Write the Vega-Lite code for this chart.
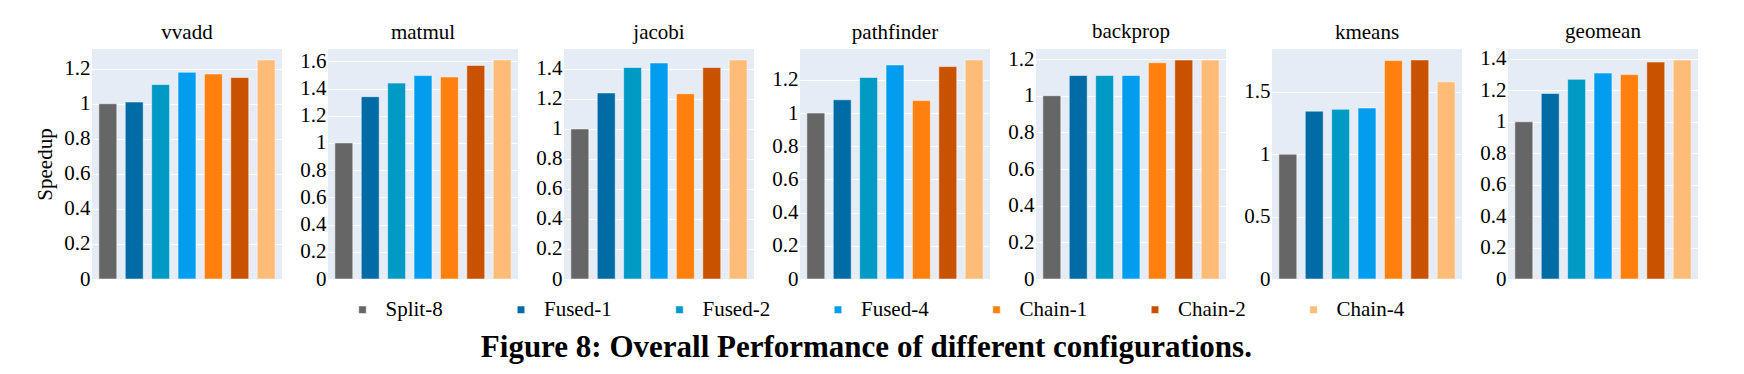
{
  "$schema": "https://vega.github.io/schema/vega-lite/v6.json",
  "background": "white",
  "padding": {"left": 34, "top": 20, "right": 10, "bottom": 5},
  "bounds": "flush",
  "spacing": 46,
  "data": {"values": [
    {"bench": "vvadd", "config": "Split-8", "speedup": 1.00},
    {"bench": "vvadd", "config": "Fused-1", "speedup": 1.01},
    {"bench": "vvadd", "config": "Fused-2", "speedup": 1.11},
    {"bench": "vvadd", "config": "Fused-4", "speedup": 1.18},
    {"bench": "vvadd", "config": "Chain-1", "speedup": 1.17},
    {"bench": "vvadd", "config": "Chain-2", "speedup": 1.15},
    {"bench": "vvadd", "config": "Chain-4", "speedup": 1.25},
    {"bench": "matmul", "config": "Split-8", "speedup": 1.00},
    {"bench": "matmul", "config": "Fused-1", "speedup": 1.34},
    {"bench": "matmul", "config": "Fused-2", "speedup": 1.44},
    {"bench": "matmul", "config": "Fused-4", "speedup": 1.495},
    {"bench": "matmul", "config": "Chain-1", "speedup": 1.485},
    {"bench": "matmul", "config": "Chain-2", "speedup": 1.57},
    {"bench": "matmul", "config": "Chain-4", "speedup": 1.61},
    {"bench": "jacobi", "config": "Split-8", "speedup": 1.00},
    {"bench": "jacobi", "config": "Fused-1", "speedup": 1.24},
    {"bench": "jacobi", "config": "Fused-2", "speedup": 1.41},
    {"bench": "jacobi", "config": "Fused-4", "speedup": 1.44},
    {"bench": "jacobi", "config": "Chain-1", "speedup": 1.235},
    {"bench": "jacobi", "config": "Chain-2", "speedup": 1.41},
    {"bench": "jacobi", "config": "Chain-4", "speedup": 1.46},
    {"bench": "pathfinder", "config": "Split-8", "speedup": 1.00},
    {"bench": "pathfinder", "config": "Fused-1", "speedup": 1.08},
    {"bench": "pathfinder", "config": "Fused-2", "speedup": 1.215},
    {"bench": "pathfinder", "config": "Fused-4", "speedup": 1.29},
    {"bench": "pathfinder", "config": "Chain-1", "speedup": 1.075},
    {"bench": "pathfinder", "config": "Chain-2", "speedup": 1.28},
    {"bench": "pathfinder", "config": "Chain-4", "speedup": 1.32},
    {"bench": "backprop", "config": "Split-8", "speedup": 1.00},
    {"bench": "backprop", "config": "Fused-1", "speedup": 1.11},
    {"bench": "backprop", "config": "Fused-2", "speedup": 1.11},
    {"bench": "backprop", "config": "Fused-4", "speedup": 1.11},
    {"bench": "backprop", "config": "Chain-1", "speedup": 1.18},
    {"bench": "backprop", "config": "Chain-2", "speedup": 1.195},
    {"bench": "backprop", "config": "Chain-4", "speedup": 1.195},
    {"bench": "kmeans", "config": "Split-8", "speedup": 1.00},
    {"bench": "kmeans", "config": "Fused-1", "speedup": 1.345},
    {"bench": "kmeans", "config": "Fused-2", "speedup": 1.36},
    {"bench": "kmeans", "config": "Fused-4", "speedup": 1.37},
    {"bench": "kmeans", "config": "Chain-1", "speedup": 1.75},
    {"bench": "kmeans", "config": "Chain-2", "speedup": 1.755},
    {"bench": "kmeans", "config": "Chain-4", "speedup": 1.58},
    {"bench": "geomean", "config": "Split-8", "speedup": 1.00},
    {"bench": "geomean", "config": "Fused-1", "speedup": 1.18},
    {"bench": "geomean", "config": "Fused-2", "speedup": 1.27},
    {"bench": "geomean", "config": "Fused-4", "speedup": 1.31},
    {"bench": "geomean", "config": "Chain-1", "speedup": 1.30},
    {"bench": "geomean", "config": "Chain-2", "speedup": 1.38},
    {"bench": "geomean", "config": "Chain-4", "speedup": 1.393}
  ]},
  "title": {
    "text": "Figure 8: Overall Performance of different configurations.",
    "orient": "bottom",
    "anchor": "middle",
    "font": "Liberation Serif",
    "fontSize": 31,
    "fontWeight": "bold",
    "color": "black",
    "offset": 13
  },
  "resolve": {"scale": {"x": "independent", "y": "independent", "color": "shared"}, "axis": {"y": "independent"}, "legend": {"color": "shared"}},
  "hconcat": [
    {
      "title": "vvadd",
      "width": 190, "height": 230,
      "transform": [{"filter": "datum.bench === 'vvadd'"}],
      "mark": {"type": "bar", "stroke": "white", "strokeOpacity": 0.5, "strokeWidth": 1},
      "encoding": {
        "x": {"field": "config", "type": "nominal", "sort": ["Split-8", "Fused-1", "Fused-2", "Fused-4", "Chain-1", "Chain-2", "Chain-4"], "axis": null, "scale": {"paddingInner": 0.32, "paddingOuter": 0.26}},
        "y": {"field": "speedup", "type": "quantitative", "scale": {"domain": [0, 1.3125], "nice": false}, "axis": {"values": [0, 0.2, 0.4, 0.6, 0.8, 1, 1.2], "format": "~g", "title": "Speedup"}},
        "color": {"field": "config", "type": "nominal", "scale": {"domain": ["Split-8", "Fused-1", "Fused-2", "Fused-4", "Chain-1", "Chain-2", "Chain-4"], "range": ["#666666", "#006BA4", "#009AC4", "#039DF0", "#FF800E", "#C85200", "#FFBC79"]}, "legend": {"orient": "none", "legendX": 260, "legendY": 250, "direction": "horizontal", "columns": 7, "gridAlign": "all", "columnPadding": 56.5, "title": null}}
      }
    },
    {
      "title": "matmul",
      "width": 190, "height": 230,
      "transform": [{"filter": "datum.bench === 'matmul'"}],
      "mark": {"type": "bar", "stroke": "white", "strokeOpacity": 0.5, "strokeWidth": 1},
      "encoding": {
        "x": {"field": "config", "type": "nominal", "sort": ["Split-8", "Fused-1", "Fused-2", "Fused-4", "Chain-1", "Chain-2", "Chain-4"], "axis": null, "scale": {"paddingInner": 0.32, "paddingOuter": 0.26}},
        "y": {"field": "speedup", "type": "quantitative", "scale": {"domain": [0, 1.6905], "nice": false}, "axis": {"values": [0, 0.2, 0.4, 0.6, 0.8, 1, 1.2, 1.4, 1.6], "format": "~g", "title": null}},
        "color": {"field": "config", "type": "nominal", "scale": {"domain": ["Split-8", "Fused-1", "Fused-2", "Fused-4", "Chain-1", "Chain-2", "Chain-4"], "range": ["#666666", "#006BA4", "#009AC4", "#039DF0", "#FF800E", "#C85200", "#FFBC79"]}, "legend": {"orient": "none", "legendX": 260, "legendY": 250, "direction": "horizontal", "columns": 7, "gridAlign": "all", "columnPadding": 56.5, "title": null}}
      }
    },
    {
      "title": "jacobi",
      "width": 190, "height": 230,
      "transform": [{"filter": "datum.bench === 'jacobi'"}],
      "mark": {"type": "bar", "stroke": "white", "strokeOpacity": 0.5, "strokeWidth": 1},
      "encoding": {
        "x": {"field": "config", "type": "nominal", "sort": ["Split-8", "Fused-1", "Fused-2", "Fused-4", "Chain-1", "Chain-2", "Chain-4"], "axis": null, "scale": {"paddingInner": 0.32, "paddingOuter": 0.26}},
        "y": {"field": "speedup", "type": "quantitative", "scale": {"domain": [0, 1.533], "nice": false}, "axis": {"values": [0, 0.2, 0.4, 0.6, 0.8, 1, 1.2, 1.4], "format": "~g", "title": null}},
        "color": {"field": "config", "type": "nominal", "scale": {"domain": ["Split-8", "Fused-1", "Fused-2", "Fused-4", "Chain-1", "Chain-2", "Chain-4"], "range": ["#666666", "#006BA4", "#009AC4", "#039DF0", "#FF800E", "#C85200", "#FFBC79"]}, "legend": {"orient": "none", "legendX": 260, "legendY": 250, "direction": "horizontal", "columns": 7, "gridAlign": "all", "columnPadding": 56.5, "title": null}}
      }
    },
    {
      "title": "pathfinder",
      "width": 190, "height": 230,
      "transform": [{"filter": "datum.bench === 'pathfinder'"}],
      "mark": {"type": "bar", "stroke": "white", "strokeOpacity": 0.5, "strokeWidth": 1},
      "encoding": {
        "x": {"field": "config", "type": "nominal", "sort": ["Split-8", "Fused-1", "Fused-2", "Fused-4", "Chain-1", "Chain-2", "Chain-4"], "axis": null, "scale": {"paddingInner": 0.32, "paddingOuter": 0.26}},
        "y": {"field": "speedup", "type": "quantitative", "scale": {"domain": [0, 1.386], "nice": false}, "axis": {"values": [0, 0.2, 0.4, 0.6, 0.8, 1, 1.2], "format": "~g", "title": null}},
        "color": {"field": "config", "type": "nominal", "scale": {"domain": ["Split-8", "Fused-1", "Fused-2", "Fused-4", "Chain-1", "Chain-2", "Chain-4"], "range": ["#666666", "#006BA4", "#009AC4", "#039DF0", "#FF800E", "#C85200", "#FFBC79"]}, "legend": {"orient": "none", "legendX": 260, "legendY": 250, "direction": "horizontal", "columns": 7, "gridAlign": "all", "columnPadding": 56.5, "title": null}}
      }
    },
    {
      "title": "backprop",
      "width": 190, "height": 230,
      "transform": [{"filter": "datum.bench === 'backprop'"}],
      "mark": {"type": "bar", "stroke": "white", "strokeOpacity": 0.5, "strokeWidth": 1},
      "encoding": {
        "x": {"field": "config", "type": "nominal", "sort": ["Split-8", "Fused-1", "Fused-2", "Fused-4", "Chain-1", "Chain-2", "Chain-4"], "axis": null, "scale": {"paddingInner": 0.32, "paddingOuter": 0.26}},
        "y": {"field": "speedup", "type": "quantitative", "scale": {"domain": [0, 1.2548], "nice": false}, "axis": {"values": [0, 0.2, 0.4, 0.6, 0.8, 1, 1.2], "format": "~g", "title": null}},
        "color": {"field": "config", "type": "nominal", "scale": {"domain": ["Split-8", "Fused-1", "Fused-2", "Fused-4", "Chain-1", "Chain-2", "Chain-4"], "range": ["#666666", "#006BA4", "#009AC4", "#039DF0", "#FF800E", "#C85200", "#FFBC79"]}, "legend": {"orient": "none", "legendX": 260, "legendY": 250, "direction": "horizontal", "columns": 7, "gridAlign": "all", "columnPadding": 56.5, "title": null}}
      }
    },
    {
      "title": "kmeans",
      "width": 190, "height": 230,
      "transform": [{"filter": "datum.bench === 'kmeans'"}],
      "mark": {"type": "bar", "stroke": "white", "strokeOpacity": 0.5, "strokeWidth": 1},
      "encoding": {
        "x": {"field": "config", "type": "nominal", "sort": ["Split-8", "Fused-1", "Fused-2", "Fused-4", "Chain-1", "Chain-2", "Chain-4"], "axis": null, "scale": {"paddingInner": 0.32, "paddingOuter": 0.26}},
        "y": {"field": "speedup", "type": "quantitative", "scale": {"domain": [0, 1.8428], "nice": false}, "axis": {"values": [0, 0.5, 1, 1.5], "format": "~g", "title": null}},
        "color": {"field": "config", "type": "nominal", "scale": {"domain": ["Split-8", "Fused-1", "Fused-2", "Fused-4", "Chain-1", "Chain-2", "Chain-4"], "range": ["#666666", "#006BA4", "#009AC4", "#039DF0", "#FF800E", "#C85200", "#FFBC79"]}, "legend": {"orient": "none", "legendX": 260, "legendY": 250, "direction": "horizontal", "columns": 7, "gridAlign": "all", "columnPadding": 56.5, "title": null}}
      }
    },
    {
      "title": "geomean",
      "width": 190, "height": 230,
      "transform": [{"filter": "datum.bench === 'geomean'"}],
      "mark": {"type": "bar", "stroke": "white", "strokeOpacity": 0.5, "strokeWidth": 1},
      "encoding": {
        "x": {"field": "config", "type": "nominal", "sort": ["Split-8", "Fused-1", "Fused-2", "Fused-4", "Chain-1", "Chain-2", "Chain-4"], "axis": null, "scale": {"paddingInner": 0.32, "paddingOuter": 0.26}},
        "y": {"field": "speedup", "type": "quantitative", "scale": {"domain": [0, 1.4627], "nice": false}, "axis": {"values": [0, 0.2, 0.4, 0.6, 0.8, 1, 1.2, 1.4], "format": "~g", "title": null}},
        "color": {"field": "config", "type": "nominal", "scale": {"domain": ["Split-8", "Fused-1", "Fused-2", "Fused-4", "Chain-1", "Chain-2", "Chain-4"], "range": ["#666666", "#006BA4", "#009AC4", "#039DF0", "#FF800E", "#C85200", "#FFBC79"]}, "legend": {"orient": "none", "legendX": 260, "legendY": 250, "direction": "horizontal", "columns": 7, "gridAlign": "all", "columnPadding": 56.5, "title": null}}
      }
    }
  ],
  "config": {
    "font": "Liberation Serif",
    "view": {"fill": "#E5ECF6", "stroke": null},
    "axis": {
      "domain": false,
      "ticks": false,
      "tickSize": 0,
      "grid": true,
      "gridColor": "white",
      "gridWidth": 1,
      "labelFont": "Liberation Serif",
      "labelFontSize": 21,
      "labelColor": "black",
      "labelPadding": 2,
      "titleFont": "Liberation Serif",
      "titleFontSize": 21,
      "titleFontWeight": "normal",
      "titleColor": "black",
      "titlePadding": 8
    },
    "title": {
      "font": "Liberation Serif",
      "fontSize": 21,
      "fontWeight": "normal",
      "color": "black",
      "offset": 6
    },
    "legend": {
      "labelFont": "Liberation Serif",
      "labelFontSize": 21,
      "labelColor": "black",
      "symbolType": "square",
      "symbolSize": 56,
      "symbolStrokeWidth": 0.5,
      "labelOffset": 12.5,
      "padding": 0
    }
  }
}
